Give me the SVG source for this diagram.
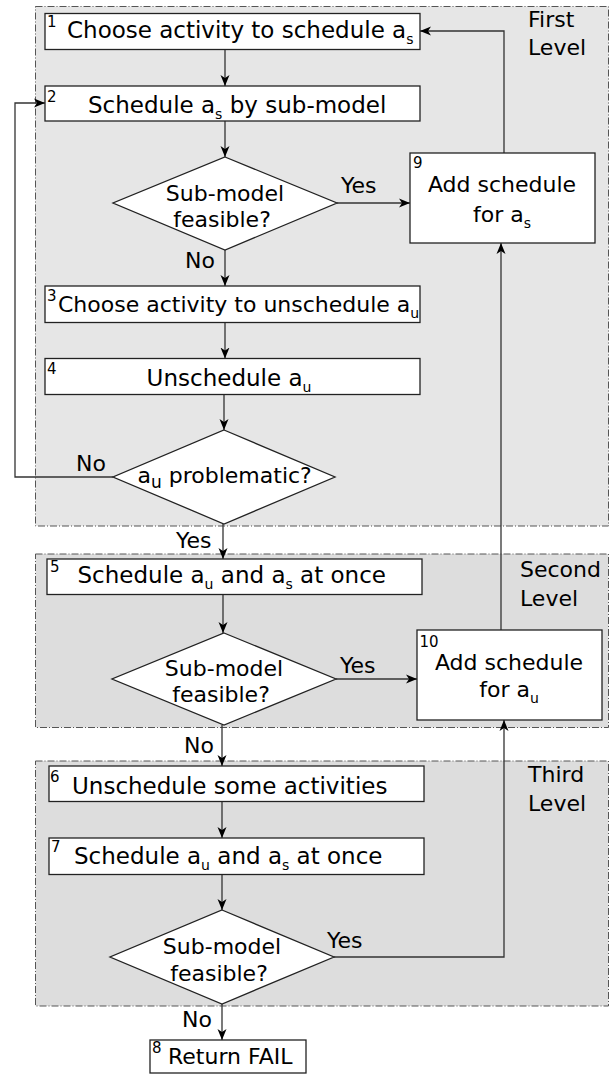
<svg xmlns="http://www.w3.org/2000/svg" width="616" height="1074" viewBox="0 0 616 1074">
<style>
text{font-family:"DejaVu Sans","Liberation Sans",sans-serif;fill:#000}
.t{font-size:22px}
.b{font-size:23px}
.n{font-size:15px}
.sub{font-size:14px}
.box{fill:#fff;stroke:#222;stroke-width:1.3}
.panel{stroke:#555;stroke-width:1;stroke-dasharray:7,2,1,2}
.p1{fill:#e6e6e6}
.p2{fill:#dddddd}
.c{fill:none;stroke:#333;stroke-width:1.3}
</style>
<defs>
<marker id="ah" markerUnits="userSpaceOnUse" markerWidth="12" markerHeight="10" refX="11" refY="5" orient="auto" viewBox="0 0 12 10">
<path d="M0,0.5 L11,5 L0,9.5 L3,5 z" fill="#000"/>
</marker>
</defs>
<g id="panels">
<rect class="panel p1" x="35.5" y="6.5" width="573" height="519.5"/>
<rect class="panel p2" x="35.5" y="554" width="573" height="173.5"/>
<rect class="panel p2" x="35.5" y="761" width="573" height="245"/>
<text class="t" x="528" y="27">First</text>
<text class="t" x="528" y="55">Level</text>
<text class="t" x="520" y="577">Second</text>
<text class="t" x="520" y="606">Level</text>
<text class="t" x="528" y="782">Third</text>
<text class="t" x="528" y="811">Level</text>
</g>
<g id="connectors">
<line class="c" x1="225" y1="49.5" x2="225" y2="86" marker-end="url(#ah)"/>
<line class="c" x1="225" y1="121" x2="225" y2="157" marker-end="url(#ah)"/>
<line class="c" x1="337" y1="203" x2="410" y2="203" marker-end="url(#ah)"/>
<polyline class="c" points="504,153 504,31 420,31" marker-end="url(#ah)"/>
<line class="c" x1="225" y1="250" x2="225" y2="286" marker-end="url(#ah)"/>
<line class="c" x1="225" y1="322.5" x2="225" y2="358.5" marker-end="url(#ah)"/>
<line class="c" x1="224" y1="394.5" x2="224" y2="430" marker-end="url(#ah)"/>
<polyline class="c" points="113,477 15,477 15,103 45,103" marker-end="url(#ah)"/>
<line class="c" x1="223" y1="524" x2="223" y2="559" marker-end="url(#ah)"/>
<line class="c" x1="223" y1="594.5" x2="223" y2="633" marker-end="url(#ah)"/>
<line class="c" x1="336" y1="679" x2="417" y2="679" marker-end="url(#ah)"/>
<line class="c" x1="501" y1="630" x2="501" y2="243" marker-end="url(#ah)"/>
<line class="c" x1="222" y1="725" x2="222" y2="766" marker-end="url(#ah)"/>
<line class="c" x1="222" y1="801.5" x2="222" y2="838" marker-end="url(#ah)"/>
<line class="c" x1="222" y1="874.5" x2="222" y2="910" marker-end="url(#ah)"/>
<polyline class="c" points="334,957 504,957 504,720" marker-end="url(#ah)"/>
<line class="c" x1="222" y1="1004" x2="222" y2="1040" marker-end="url(#ah)"/>
<text class="t" x="341" y="193">Yes</text>
<text class="t" x="185" y="268">No</text>
<text class="t" x="76" y="471">No</text>
<text class="t" x="176" y="548">Yes</text>
<text class="t" x="340" y="673">Yes</text>
<text class="t" x="184" y="752.5">No</text>
<text class="t" x="327" y="948">Yes</text>
<text class="t" x="182" y="1027">No</text>
</g>
<g id="n1">
<rect class="box" x="45" y="13.5" width="375" height="36"/>
<text class="n" x="47" y="27">1</text>
<text class="b" x="67" y="38">Choose activity to schedule a<tspan class="sub" dy="6">s</tspan></text>
</g>
<g id="n2">
<rect class="box" x="45" y="86" width="375" height="35"/>
<text class="n" x="47" y="101.5">2</text>
<text class="b" x="88" y="112.5">Schedule a<tspan class="sub" dy="6">s</tspan><tspan dy="-6"> by sub-model</tspan></text>
</g>
<g id="d1">
<polygon class="box" points="225,157 337,203 225,250 113,203"/>
<text class="t" x="225" y="200.5" text-anchor="middle">Sub-model</text>
<text class="t" x="222" y="227" text-anchor="middle">feasible?</text>
</g>
<g id="n9">
<rect class="box" x="410" y="153" width="185" height="90"/>
<text class="n" x="413" y="168">9</text>
<text class="t" x="502" y="191.5" text-anchor="middle">Add schedule</text>
<text class="t" x="502" y="221.5" text-anchor="middle">for a<tspan class="sub" dy="6">s</tspan></text>
</g>
<g id="n3">
<rect class="box" x="45" y="286" width="375" height="36.5"/>
<text class="n" x="47" y="300.5">3</text>
<text class="t" x="58" y="311.5">Choose activity to unschedule a<tspan class="sub" dy="6">u</tspan></text>
</g>
<g id="n4">
<rect class="box" x="45" y="358.5" width="375" height="36"/>
<text class="n" x="47" y="374">4</text>
<text class="b" x="229" y="386" text-anchor="middle">Unschedule a<tspan class="sub" dy="6">u</tspan></text>
</g>
<g id="d2">
<polygon class="box" points="224,430 335,477 224,524 113,477"/>
<text class="t" x="137.5" y="482.5">a<tspan style="font-size:17px" dy="5">u</tspan><tspan dy="-5"> problematic?</tspan></text>
</g>
<g id="n5">
<rect class="box" x="47" y="559" width="375" height="35.5"/>
<text class="n" x="50" y="572">5</text>
<text class="b" x="77.5" y="582.5">Schedule a<tspan class="sub" dy="6">u</tspan><tspan dy="-6"> and a</tspan><tspan class="sub" dy="6">s</tspan><tspan dy="-6"> at once</tspan></text>
</g>
<g id="d3">
<polygon class="box" points="224,633 336,679 224,725 112,679"/>
<text class="t" x="224" y="675.5" text-anchor="middle">Sub-model</text>
<text class="t" x="221" y="702" text-anchor="middle">feasible?</text>
</g>
<g id="n10">
<rect class="box" x="417" y="630" width="185" height="90"/>
<text class="n" x="419.5" y="646.5">10</text>
<text class="t" x="509" y="669.5" text-anchor="middle">Add schedule</text>
<text class="t" x="509" y="696.5" text-anchor="middle">for a<tspan class="sub" dy="6">u</tspan></text>
</g>
<g id="n6">
<rect class="box" x="49" y="766" width="375" height="35.5"/>
<text class="n" x="50" y="781.5">6</text>
<text class="b" x="72" y="793.5">Unschedule some activities</text>
</g>
<g id="n7">
<rect class="box" x="49" y="838" width="375" height="36.5"/>
<text class="n" x="51" y="852">7</text>
<text class="b" x="74" y="863.5">Schedule a<tspan class="sub" dy="6">u</tspan><tspan dy="-6"> and a</tspan><tspan class="sub" dy="6">s</tspan><tspan dy="-6"> at once</tspan></text>
</g>
<g id="d4">
<polygon class="box" points="222,910 334,957 222,1004 110,957"/>
<text class="t" x="222" y="954" text-anchor="middle">Sub-model</text>
<text class="t" x="219" y="980.5" text-anchor="middle">feasible?</text>
</g>
<g id="n8">
<rect class="box" x="150" y="1040" width="156" height="33"/>
<text class="n" x="152" y="1053">8</text>
<text class="t" x="168" y="1064">Return FAIL</text>
</g>
</svg>
